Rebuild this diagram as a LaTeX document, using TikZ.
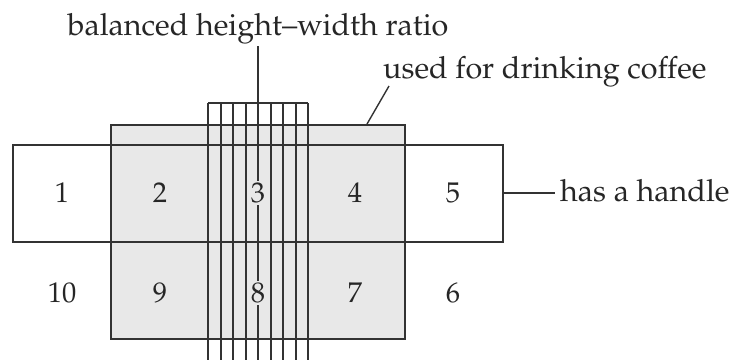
\documentclass[tikz,border=0pt]{standalone}
\usepackage[T1]{fontenc}
\usepackage{mathpazo}
\begin{document}
\begin{tikzpicture}[x=1pt,y=-1pt,
  ln/.style={draw=black!80,line width=1.4pt},
  lbl/.style={font=\fontsize{30.5}{34}\selectfont,text=black!85,inner sep=0pt},
  num/.style={font=\fontsize{28.5}{32}\selectfont,text=black!85,inner sep=2pt},
  grayfill/.style={fill=black!9}]
\useasboundingbox (0,0) rectangle (731,360);
% gray block
\path[grayfill,ln] (111,125) rectangle (405,339);
% handle row
\path[ln] (13,145) rectangle (503,242);
% vertical bundle (the centre one is drawn as the label line)
\foreach \x in {208,221,233,246,271,283,296,308}{
  \draw[ln] (\x,103) -- (\x,360);
}
\draw[ln] (208,103) -- (308,103);
% labels
\node[lbl,anchor=base] (bal) at (258,35) {balanced height--width ratio};
\node[lbl,anchor=base west] (cof) at (383,78) {used for drinking coffee};
\node[lbl,anchor=base west] (han) at (560,201) {has a handle};
% numbers
\node[num] (n1) at (62,193) {1};
\node[num] (n2) at (160,193) {2};
\node[num] (n3) at (258,193) {3};
\node[num] (n4) at (355,193) {4};
\node[num] (n5) at (453,193) {5};
\node[num] (n10) at (62,293) {10};
\node[num] (n9) at (160,293) {9};
\node[num] (n8) at (258,293) {8};
\node[num] (n7) at (355,293) {7};
\node[num] (n6) at (453,293) {6};
% connectors
\coordinate (baltip) at (258,46);
\coordinate (balend) at (258,360);
\draw[ln] (baltip) -- (n3.north);
\draw[ln] (n3.south) -- (n8.north);
\draw[ln] (n8.south) -- (balend);
\coordinate (cofa) at (367,124);
\coordinate (cofb) at (389,86);
\draw[ln] (cofa) -- (cofb);
\coordinate (hana) at (503,193);
\coordinate (hanb) at (555,193);
\draw[ln] (hana) -- (hanb);
\end{tikzpicture}
\end{document}
